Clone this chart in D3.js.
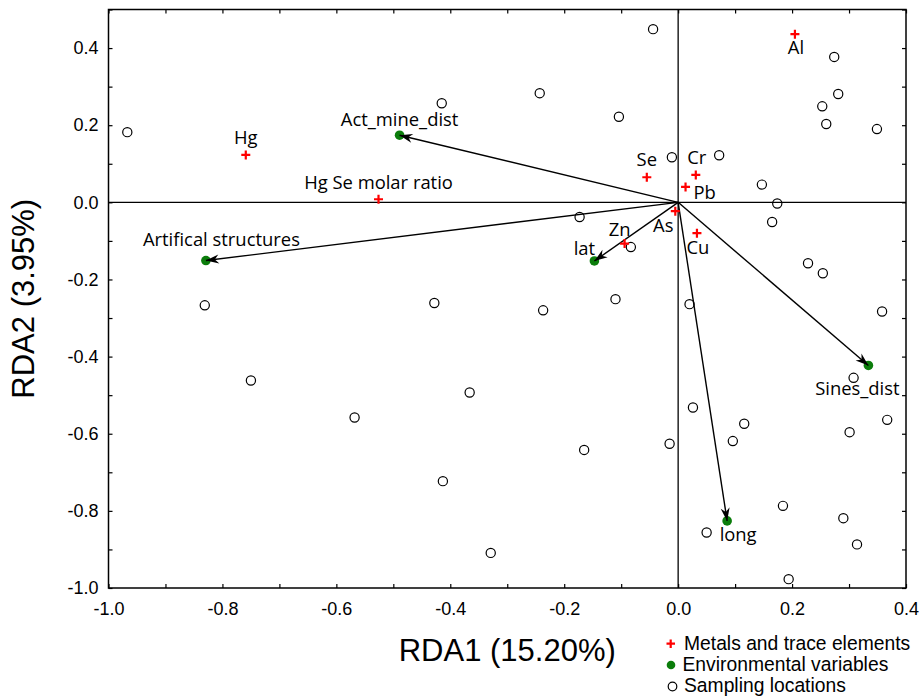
<!DOCTYPE html>
<html lang="en">
<head>
<meta charset="UTF-8">
<title>RDA biplot</title>
<style>
  body { margin: 0; background: #fff; }
  svg { display: block; }
</style>
</head>
<body>
<div id="chart"></div>
<script src="https://d3js.org/d3.v7.min.js"></script>
<script>
// Sampling locations (RDA1, RDA2)
const siteX = [-0.967, -0.415, -0.243, -0.104, -0.044, -0.011, 0.072, 0.274, 0.281, 0.253,
               0.260, 0.349, 0.147, 0.174, 0.165, 0.228, 0.254, 0.358, 0.020, -0.110,
               -0.237, -0.173, -0.083, -0.831, -0.428, -0.750, -0.568, -0.413, -0.366, -0.329,
               -0.165, -0.015, 0.026, 0.116, 0.096, 0.050, 0.184, 0.290, 0.314, 0.194,
               0.308, 0.367, 0.301];
const siteY = [0.182, 0.257, 0.283, 0.222, 0.449, 0.117, 0.122, 0.377, 0.281, 0.249,
               0.203, 0.190, 0.046, -0.003, -0.051, -0.158, -0.184, -0.283, -0.264, -0.251,
               -0.280, -0.038, -0.116, -0.267, -0.261, -0.462, -0.558, -0.723, -0.493, -0.909,
               -0.642, -0.626, -0.532, -0.574, -0.619, -0.856, -0.787, -0.819, -0.887, -0.977,
               -0.455, -0.564, -0.596];

// Metals and trace elements
const metalNames = ["Hg", "Hg Se molar ratio", "Se", "Cr", "Pb", "As", "Zn", "Cu", "Al"];
const metalX = [-0.759, -0.526, -0.055, 0.031, 0.013, -0.005, -0.094, 0.033, 0.205];
const metalY = [0.123, 0.008, 0.065, 0.071, 0.040, -0.023, -0.107, -0.080, 0.436];

// Environmental variables (arrows from origin)
const envNames = ["Act_mine_dist", "Artifical structures", "lat", "Sines_dist", "long"];
const envX = [-0.489, -0.829, -0.147, 0.334, 0.086];
const envY = [0.174, -0.151, -0.152, -0.423, -0.826];

const majorTicks = [-1.0, -0.8, -0.6, -0.4, -0.2, 0.0, 0.2, 0.4];
const yMajorTicks = [-1.0, -0.8, -0.6, -0.4, -0.2, 0.0, 0.2, 0.4];
const legendLabels = ["Metals and trace elements", "Environmental variables", "Sampling locations"];

// label placement (dx, dy of baseline, anchor)
const metalLabelPos = {
  "Hg": [0, -11, "middle"], "Hg Se molar ratio": [0, -10, "middle"], "Se": [0, -11, "middle"],
  "Cr": [1, -11, "middle"], "Pb": [8, 12, "start"], "As": [-12, 21, "middle"],
  "Zn": [-5, -8, "middle"], "Cu": [1, 21, "middle"], "Al": [1, 20, "middle"]
};
const envLabelPos = {
  "Act_mine_dist": [0, -9, "middle"], "Artifical structures": [-63, -15, "start"],
  "lat": [-10, -6, "middle"], "Sines_dist": [-11, 30, "middle"], "long": [11, 20, "middle"]
};

const W = 920, H = 696;
const plot = {left: 108.5, right: 906, top: 9.5, bottom: 588};

const svg = d3.select("#chart").append("svg")
  .attr("width", W).attr("height", H);

const x = d3.scaleLinear().domain([-1, 0.4]).range([plot.left, plot.right]);
const y = d3.scaleLinear().domain([-1, 0.5]).range([plot.bottom, plot.top]);

const fmt = d => d.toFixed(1);
const minorX = d3.range(-10, 5).map(d => d / 10);
const minorY = d3.range(-10, 6).map(d => d / 10);
const tickFont = "'Liberation Sans', Arial, sans-serif";
const labelFont = "'Open Sans', sans-serif";

// zero lines
svg.append("line").attr("x1", plot.left).attr("x2", plot.right).attr("y1", y(0)).attr("y2", y(0))
  .attr("stroke", "#000").attr("stroke-width", 1.3);
svg.append("line").attr("x1", x(0)).attr("x2", x(0)).attr("y1", plot.top).attr("y2", plot.bottom)
  .attr("stroke", "#000").attr("stroke-width", 1.3);

// axes
function styleAxis(g) {
  g.select(".domain").remove();
  g.selectAll("line").attr("stroke", "#000").attr("stroke-width", 1.2);
  g.selectAll("text").attr("font-family", tickFont).attr("font-size", 18).attr("fill", "#000");
}
svg.append("g").attr("transform", `translate(0,${plot.bottom})`)
  .call(d3.axisBottom(x).tickValues(minorX).tickSize(-4).tickFormat(d => majorTicks.some(t => Math.abs(t - d) < 1e-9) ? fmt(d) : "").tickPadding(14))
  .call(styleAxis);
svg.append("g").attr("transform", `translate(${plot.left},0)`)
  .call(d3.axisLeft(y).tickValues(minorY).tickSize(-4).tickFormat(d => yMajorTicks.some(t => Math.abs(t - d) < 1e-9) ? fmt(d) : "").tickPadding(10))
  .call(styleAxis);
svg.append("g").attr("transform", `translate(0,${plot.top})`)
  .call(d3.axisTop(x).tickValues(minorX).tickSize(-4).tickFormat(""))
  .call(styleAxis);
svg.append("g").attr("transform", `translate(${plot.right},0)`)
  .call(d3.axisRight(y).tickValues(minorY).tickSize(-4).tickFormat(""))
  .call(styleAxis);

// frame
svg.append("rect").attr("x", plot.left).attr("y", plot.top)
  .attr("width", plot.right - plot.left).attr("height", plot.bottom - plot.top)
  .attr("fill", "none").attr("stroke", "#000").attr("stroke-width", 1.5);

// axis titles
svg.append("text").attr("x", (plot.left + plot.right) / 2).attr("y", 661)
  .attr("text-anchor", "middle").attr("font-family", tickFont).attr("font-size", 31)
  .text("RDA1 (15.20%)");
svg.append("text").attr("transform", `translate(34,${(plot.top + plot.bottom) / 2}) rotate(-90)`)
  .attr("text-anchor", "middle").attr("font-family", tickFont).attr("font-size", 31)
  .text("RDA2 (3.95%)");

// sampling locations
svg.append("g").selectAll("circle").data(siteX).join("circle")
  .attr("cx", d => x(d)).attr("cy", (d, i) => y(siteY[i])).attr("r", 4.6)
  .attr("fill", "none").attr("stroke", "#000").attr("stroke-width", 1.2);

// arrow marker
svg.append("defs").append("marker")
  .attr("id", "arrow").attr("viewBox", "-14 -6 16 12")
  .attr("refX", 0).attr("refY", 0)
  .attr("markerWidth", 16).attr("markerHeight", 12)
  .attr("markerUnits", "userSpaceOnUse").attr("orient", "auto")
  .append("path").attr("d", "M0,0 L-13,-4.5 L-9,0 L-13,4.5 Z")
  .attr("fill", "#000");

// environmental variables
svg.append("g").selectAll("circle").data(envX).join("circle")
  .attr("cx", d => x(d)).attr("cy", (d, i) => y(envY[i])).attr("r", 4.8)
  .attr("fill", "#0b7d0b");
svg.append("g").selectAll("line").data(envX).join("line")
  .attr("x1", x(0)).attr("y1", y(0))
  .attr("x2", d => x(d)).attr("y2", (d, i) => y(envY[i]))
  .attr("stroke", "#000").attr("stroke-width", 1.4)
  .attr("marker-end", "url(#arrow)");
svg.append("g").selectAll("text").data(envNames).join("text")
  .attr("x", (d, i) => x(envX[i]) + envLabelPos[d][0])
  .attr("y", (d, i) => y(envY[i]) + envLabelPos[d][1])
  .attr("text-anchor", d => envLabelPos[d][2])
  .attr("font-family", labelFont).attr("font-size", 18.4).attr("fill", "#000")
  .text(d => d);

// metals
svg.append("g").selectAll("path").data(metalX).join("path")
  .attr("transform", (d, i) => `translate(${x(d)},${y(metalY[i])})`)
  .attr("d", "M-4.5,0H4.5M0,-4.5V4.5")
  .attr("stroke", "#ff0000").attr("stroke-width", 2.2).attr("fill", "none");
svg.append("g").selectAll("text").data(metalNames).join("text")
  .attr("x", (d, i) => x(metalX[i]) + metalLabelPos[d][0])
  .attr("y", (d, i) => y(metalY[i]) + metalLabelPos[d][1])
  .attr("text-anchor", d => metalLabelPos[d][2])
  .attr("font-family", labelFont).attr("font-size", 18.4).attr("fill", "#000")
  .text(d => d);

// legend
const lg = svg.append("g").attr("font-family", tickFont).attr("font-size", 19.3);
lg.append("path").attr("d", "M666.5,643.7H675M670.7,639.5V648")
  .attr("stroke", "#ff0000").attr("stroke-width", 2.2);
lg.append("circle").attr("cx", 671).attr("cy", 665).attr("r", 4.3).attr("fill", "#0b7d0b");
lg.append("circle").attr("cx", 672.5).attr("cy", 686.5).attr("r", 4.3)
  .attr("fill", "none").attr("stroke", "#000").attr("stroke-width", 1.2);
lg.selectAll("text.leg").data(legendLabels).join("text")
  .attr("class", "leg")
  .attr("x", (d, i) => i === 1 ? 682.5 : 684)
  .attr("y", (d, i) => 649.5 + i * 21)
  .text(d => d);
</script>
</body>
</html>
